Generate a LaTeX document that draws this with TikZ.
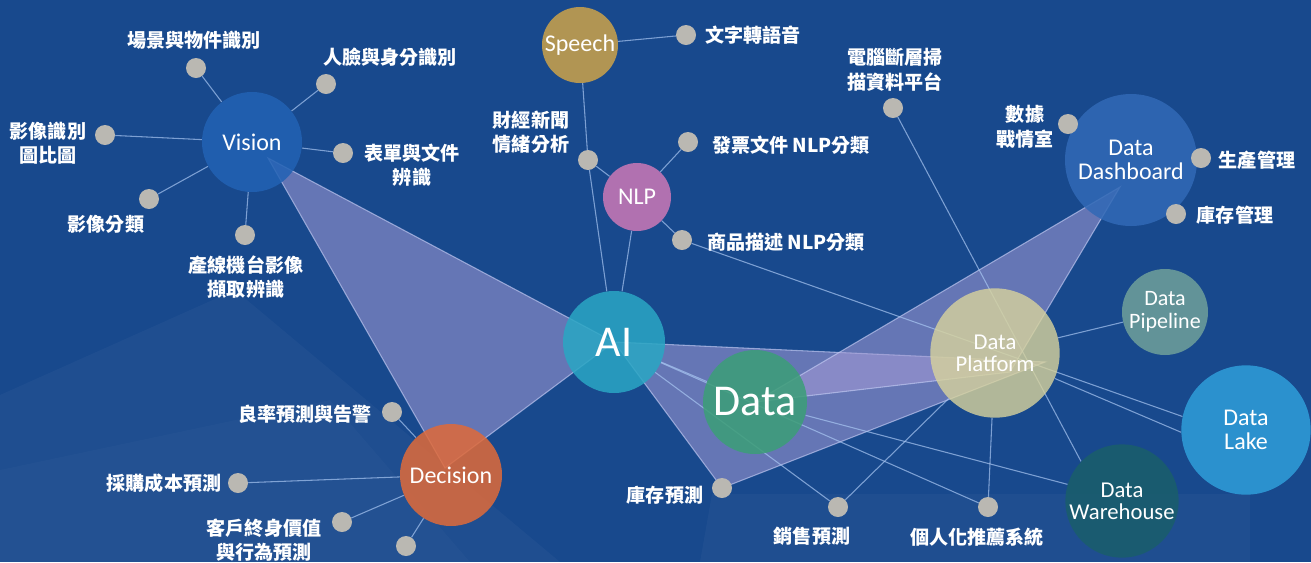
\documentclass[tikz,border=0pt]{standalone}
\usepackage{fontspec}
\setmainfont{Carlito}
\newfontfamily\cjk{Noto Sans CJK TC}
\pgfdeclarelayer{bgfill}
\pgfdeclarelayer{bglines}
\pgfsetlayers{bgfill,bglines,main}
\definecolor{bgc}{HTML}{18498D}
\definecolor{cVision}{HTML}{2262B4}
\definecolor{cSpeech}{HTML}{CBA24A}
\definecolor{cNLP}{HTML}{CB78B6}
\definecolor{cAI}{HTML}{2AA6C4}
\definecolor{cData}{HTML}{3C9E78}
\definecolor{cDecision}{HTML}{DF6A3A}
\definecolor{cPlatform}{HTML}{D8D39C}
\definecolor{cDash}{HTML}{3169B6}
\definecolor{cPipe}{HTML}{6FA09A}
\definecolor{cLake}{HTML}{2F9DD9}
\definecolor{cWare}{HTML}{1A5E6B}
\definecolor{dotgray}{HTML}{BAB8B2}
\definecolor{linkc}{HTML}{A8C6F2}
\definecolor{polyc}{HTML}{A69CD6}
\definecolor{polyedge}{HTML}{C4CCF4}
\tikzset{
  hub/.style={circle, inner sep=0pt, text=white, align=center, fill opacity=0.86, text opacity=1,
    font=\fontsize{18}{17.5}\selectfont},
  lbl/.style={text=white, align=center, inner sep=0pt, font=\cjk\bfseries\fontsize{14.3}{18.4}\selectfont},
  gdot/.style={circle, fill=dotgray, minimum size=15pt, inner sep=0pt},
  link/.style={draw=linkc, line width=0.8pt, draw opacity=0.7},
  poly/.style={fill=polyc, fill opacity=0.55, draw=polyedge, draw opacity=0.65, line width=0.8pt}
}
\begin{document}
\begin{tikzpicture}[x=0.75pt,y=-0.75pt]
\useasboundingbox (0,0) rectangle (1311,562);

% hubs
\node[hub, fill=cVision, minimum size=75pt] (vision) at (252,142) {Vision};
\node[hub, fill=cSpeech, minimum size=57pt] (speech) at (580,45) {Speech};
\node[hub, fill=cNLP, minimum size=51pt] (nlp) at (637,197) {NLP};
\node[hub, fill=cAI, minimum size=76.5pt, font=\fontsize{33}{36}\selectfont] (ai) at (614,342) {AI};
\node[hub, fill=cData, minimum size=78pt, font=\fontsize{33}{36}\selectfont] (data) at (755,402) {Data};
\node[hub, fill=cDecision, minimum size=76.5pt] (decision) at (451,475) {Decision};
\node[hub, fill=cPlatform, minimum size=97pt, fill opacity=0.8, font=\fontsize{17}{16.5}\selectfont] (platform) at (995,353) {Data\\Platform};
\node[hub, fill=cDash, minimum size=99pt] (dash) at (1131,160) {Data\\Dashboard};
\node[hub, fill=cPipe, minimum size=64.5pt, font=\fontsize{16.5}{17}\selectfont] (pipe) at (1165,312) {Data\\Pipeline};
\node[hub, fill=cLake, minimum size=97pt] (lake) at (1246,430) {Data\\Lake};
\node[hub, fill=cWare, minimum size=85pt, font=\fontsize{17}{16.5}\selectfont] (ware) at (1122,501) {Data\\Warehouse};

% grey dots
\node[gdot] (v1) at (196,68) {};
\node[gdot] (v2) at (326,84) {};
\node[gdot] (v3) at (105,135) {};
\node[gdot] (v4) at (343,153) {};
\node[gdot] (v5) at (149,199) {};
\node[gdot] (v6) at (245,235) {};
\node[gdot] (s1) at (686,35) {};
\node[gdot] (n0) at (588,160) {};
\node[gdot] (n1) at (688,142) {};
\node[gdot] (n2) at (682,240) {};
\node[gdot] (ct) at (893,108) {};
\node[gdot] (b1) at (1068,124) {};
\node[gdot] (b2) at (1201,158) {};
\node[gdot] (b3) at (1176,214) {};
\node[gdot] (d1) at (392,412) {};
\node[gdot] (d2) at (238,483) {};
\node[gdot] (d3) at (342,522) {};
\node[gdot] (d4) at (406,546) {};
\node[gdot] (k1) at (722,488) {};
\node[gdot] (k2) at (838,507) {};
\node[gdot] (k3) at (988,507) {};

% labels
\node[lbl] (tv1) at (194,40) {場景與物件識別};
\node[lbl] (tv2) at (390,57) {人臉與身分識別};
\node[lbl] (tv3) at (48,143) {影像識別\\圖比圖};
\node[lbl] (tv4) at (412,165) {表單與文件\\辨識};
\node[lbl] (tv5) at (106,224) {影像分類};
\node[lbl] (tv6) at (246,277) {產線機台影像\\擷取辨識};
\node[lbl] (ts1) at (753,35) {文字轉語音};
\node[lbl] (tn0) at (531,132) {財經新聞\\情緒分析};
\node[lbl] (tn1) at (791,145) {發票文件 NLP分類};
\node[lbl] (tn2) at (786,242) {商品描述 NLP分類};
\node[lbl] (tct) at (895,70) {電腦斷層掃\\描資料平台};
\node[lbl] (tb1) at (1025,127) {數據\\戰情室};
\node[lbl] (tb2) at (1257,160) {生產管理};
\node[lbl] (tb3) at (1235,215) {庫存管理};
\node[lbl] (td1) at (305,414) {良率預測與告警};
\node[lbl] (td2) at (164,483) {採購成本預測};
\node[lbl] (td3) at (264,540) {客戶終身價值\\與行為預測};
\node[lbl] (tk1) at (665,495) {庫存預測};
\node[lbl] (tk2) at (812,536) {銷售預測};
\node[lbl] (tk3) at (977,537) {個人化推薦系統};

% polygon vertices
\coordinate (vv) at (268,158);
\coordinate (decv) at (445,468);
\coordinate (pv) at (1045,362);
\coordinate (dashv) at (1120,187);
\coordinate (pv2) at (1010,372);

\begin{pgfonlayer}{bgfill}
  \fill[bgc] (0,0) rectangle (1311,562);
  \fill[white, opacity=0.03] (0,395) -- (235,290) -- (560,562) -- (0,562) -- cycle;
  \fill[white, opacity=0.02] (0,470) -- (330,400) -- (470,562) -- (0,562) -- cycle;
  \fill[white, opacity=0.03] (712,494) -- (1250,494) -- (1250,562) -- (700,562) -- cycle;
  \path[poly] (vv) -- (ai.center) -- (decv) -- cycle;
  \path[poly] (ai.center) -- (pv) -- (k1.center) -- cycle;
  \path[poly] (dashv) -- (data.center) -- (pv2) -- cycle;
\end{pgfonlayer}

\begin{pgfonlayer}{bglines}
  \foreach \d in {v1,v2,v3,v4,v5,v6} \draw[link] (vision) -- (\d);
  \draw[link] (speech) -- (s1);
  \draw[link] (speech) -- (n0);
  \draw[link] (n0) -- (ai);
  \draw[link] (n0) -- (nlp);
  \draw[link] (nlp) -- (n1);
  \draw[link] (nlp) -- (n2);
  \draw[link] (nlp) -- (ai);
  \draw[link] (n2) -- (lake.168);
  \draw[link] (ct) -- (ware.136);
  \draw[link] (platform) -- (pipe);
  \draw[link] (platform) -- (lake.182);
  \draw[link] (platform) -- (k2);
  \draw[link] (platform) -- (k3);
  \draw[link] (data) -- (ware.163);
  \draw[link] (ai) -- (k3);
  \draw[link] (ai) -- (k2);
  \draw[link] (ai) -- (data);
  \foreach \d in {d1,d2,d3,d4} \draw[link] (decision) -- (\d);
\end{pgfonlayer}
\end{tikzpicture}
\end{document}
